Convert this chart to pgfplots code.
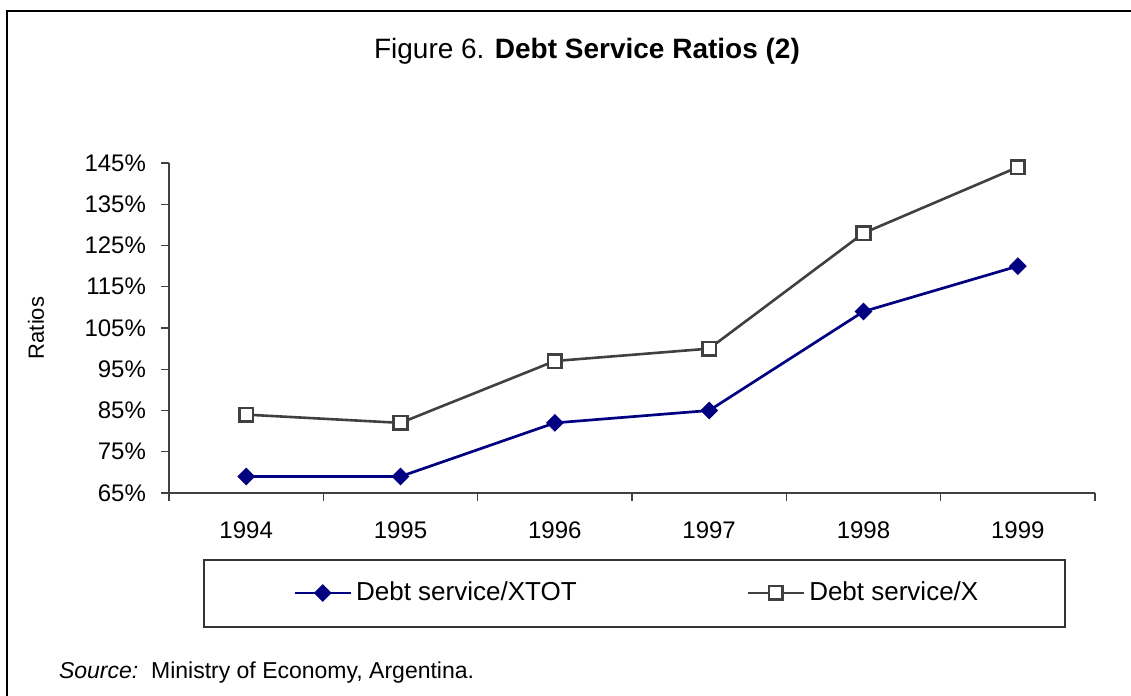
\documentclass[border=0pt]{standalone}
\usepackage{fontspec}
\setmainfont{Liberation Sans}
\usepackage{pgfplots}
\pgfplotsset{compat=1.18}
\definecolor{navyblue}{HTML}{000080}
\definecolor{darkgr}{HTML}{404040}
\begin{document}
\begin{tikzpicture}[x=1pt,y=1pt]
\useasboundingbox (0,0) rectangle (565.5,348);
\draw[line width=1pt,black] (3.5,-10) rectangle (580,342.5);
\node[font=\fontsize{14}{16}\selectfont] at (293.5,322.5) {Figure 6. \textbf{Debt Service Ratios (2)}};
\node[rotate=90,font=\fontsize{11}{13}\selectfont] at (18,184) {Ratios};
\draw[black!80,line width=0.6pt] (102,34.5) rectangle (532.5,68);
\node[anchor=west,font=\fontsize{11.5}{13}\selectfont] at (26,11.5) {\textit{Source:}\ \ Ministry of Economy, Argentina.};
\begin{axis}[
  at={(84.5pt,101.5pt)}, anchor=south west,
  scale only axis, width=463pt, height=165pt,
  xmin=-0.5, xmax=5.5, ymin=65, ymax=145,
  axis x line=bottom, axis y line=left,
  axis line style={-, darkgr, line width=0.6pt},
  every tick/.style={darkgr, line width=0.6pt},
  tick align=outside,
  major tick length=4pt, minor tick length=4pt,
  xtick={0,1,2,3,4,5},
  xticklabels={1994,1995,1996,1997,1998,1999},
  major x tick style={draw=none},
  minor xtick={-0.5,0.5,1.5,2.5,3.5,4.5,5.5},
  ytick={65,75,85,95,105,115,125,135,145},
  yticklabels={65\%,75\%,85\%,95\%,105\%,115\%,125\%,135\%,145\%},
  ticklabel style={font=\fontsize{12}{14}\selectfont},
  xticklabel style={yshift=-7pt},
  yticklabel style={xshift=-4pt},
  /pgf/number format/assume math mode=true,
  clip=false,
  legend columns=2,
  legend style={draw=none, fill=none, inner sep=0pt,
    at={(0.1339,-0.303)}, anchor=west,
    font=\fontsize{13}{15}\selectfont,
    nodes={inner xsep=2pt},
    /tikz/every even column/.append style={column sep=83pt}},
  legend image code/.code={\draw[#1,mark repeat=2,mark phase=2] plot coordinates {(0pt,0pt) (14pt,0pt) (28pt,0pt)};},
  legend cell align=left,
]
\addplot[navyblue, line width=1.35pt, mark=square*, mark size=2.9pt,
  mark options={rotate=45, fill=navyblue, draw=navyblue, line width=0.5pt}]
  coordinates {(0,69) (1,69) (2,82) (3,85) (4,109) (5,120)};
\addlegendentry{Debt service/XTOT}
\addplot[darkgr, line width=1.3pt, mark=square*, mark size=3.4pt,
  mark options={fill=white, draw=darkgr, line width=1.3pt}]
  coordinates {(0,84) (1,82) (2,97) (3,100) (4,128) (5,144)};
\addlegendentry{Debt service/X}
\end{axis}
\end{tikzpicture}
\end{document}
